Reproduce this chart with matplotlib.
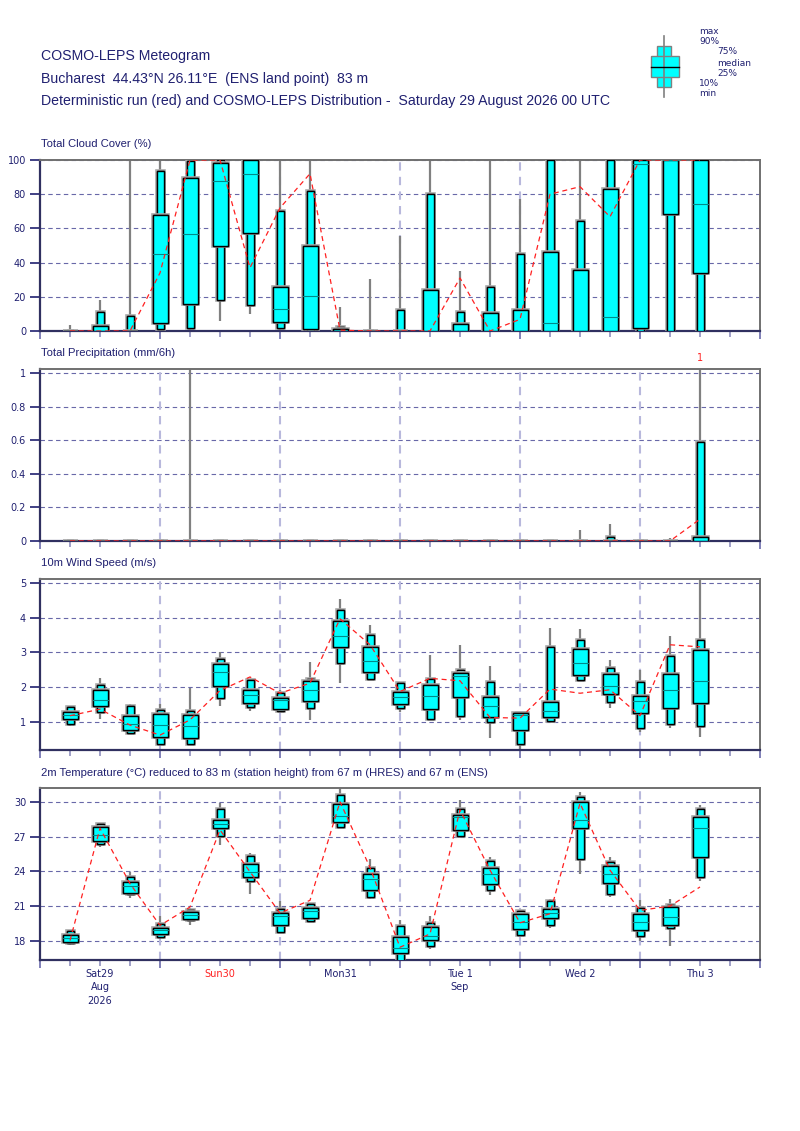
import matplotlib
matplotlib.use('Agg')
import matplotlib.pyplot as plt
import matplotlib.patheffects as pe
from matplotlib import font_manager
from matplotlib.patches import Rectangle
import numpy as np

# Horas desde el sábado 29 00 UTC (pasos de 6 h)
steps = np.arange(6, 133, 6)

# Nubosidad total (%)
cc_min = [0, 0, 0, 0, 0, 6, 10, 0, 0, 0, 0, 0, 0, 0, 0, 0, 0, 0, 0, 0, 0, 0]
cc_p10 = [0, 0, 0, 1, 2, 18, 15, 2, 0, 0, 0, 0, 0, 0, 0, 0, 0, 0, 0, 0, 0, 0]
cc_p25 = [0, 0, 0, 4.5, 16, 49.5, 57.5, 5, 1, 0, 0, 0, 0, 0, 0, 0, 0, 0, 0, 1.5, 68.4, 34]
cc_med = [0, 0, 0, 45, 57, 87.7, 92, 13, 20.5, 0, 0, 0, 0, 0, 0, 0, 4.5, 0, 8, 97.4, 100, 74.4]
cc_p75 = [0, 3, 0, 67.6, 89.7, 98, 100, 25.5, 49.5, 1, 0, 0, 23.8, 3.9, 10.3, 12, 46, 35.7, 83.2, 100, 100, 100]
cc_p90 = [0, 11.3, 8.8, 93.6, 99.4, 100, 100, 70.4, 82, 2.1, 0, 12, 80, 11.3, 25.5, 45, 100, 64.3, 100, 100, 100, 100]
cc_max = [3.5, 18, 100, 100, 100, 100, 100, 100, 100, 14, 30.6, 55.5, 100, 35, 100, 77, 100, 100, 100, 100, 100, 100]
cc_det = [0, 0, 0, 34, 100, 100, 37, 72, 92, 0.5, 0, 0, 0, 31, 0, 6.8, 80, 84.4, 66.8, 100, 100, 100]

# Precipitación total (mm/6h)
tp_min = [0] * 22
tp_p10 = [0] * 22
tp_p25 = [0] * 22
tp_med = [0] * 22
tp_p75 = [0] * 18 + [0, 0, 0, 0.024]
tp_p90 = [0] * 18 + [0.024, 0, 0, 0.59]
tp_max = [0, 0, 0, 0, 1.6, 0, 0, 0, 0, 0, 0, 0, 0, 0, 0, 0, 0, 0.064, 0.1, 0, 0.02, 1.6]
tp_det = [0] * 21 + [0.13]

# Viento a 10 m (m/s)
ws_min = [0.88, 1.07, 0.65, 0.36, 0.33, 1.44, 1.32, 1.27, 1.04, 2.11, 2.19, 1.29, 1.06, 1.06, 0.52, 0.1, 1.0, 2.2, 1.40, 0.71, 0.83, 0.57]
ws_p10 = [0.92, 1.29, 0.67, 0.36, 0.34, 1.67, 1.43, 1.31, 1.39, 2.69, 2.22, 1.39, 1.08, 1.15, 0.98, 0.35, 1.02, 2.21, 1.57, 0.83, 0.92, 0.87]
ws_p25 = [1.08, 1.45, 0.75, 0.56, 0.54, 2.04, 1.55, 1.36, 1.59, 3.15, 2.43, 1.52, 1.36, 1.70, 1.14, 0.76, 1.12, 2.34, 1.79, 1.25, 1.40, 1.55]
ws_med = [1.19, 1.63, 0.92, 0.89, 0.87, 2.43, 1.77, 1.62, 1.90, 3.47, 2.74, 1.70, 1.73, 2.32, 1.44, 1.20, 1.32, 2.69, 2.03, 1.61, 1.91, 2.18]
ws_p75 = [1.27, 1.91, 1.15, 1.23, 1.18, 2.67, 1.92, 1.67, 2.16, 3.92, 3.16, 1.87, 2.05, 2.40, 1.72, 1.24, 1.57, 3.09, 2.37, 1.73, 2.38, 3.06]
ws_p90 = [1.43, 2.06, 1.46, 1.35, 1.32, 2.81, 2.19, 1.83, 2.24, 4.23, 3.50, 2.13, 2.23, 2.49, 2.14, 1.24, 3.17, 3.35, 2.55, 2.14, 2.90, 3.35]
ws_max = [1.45, 2.27, 1.52, 1.51, 1.96, 3.02, 2.19, 1.92, 2.72, 4.55, 3.80, 2.13, 2.93, 3.22, 2.61, 1.25, 3.70, 3.68, 2.77, 2.48, 3.46, 5.6]
ws_det = [1.17, 1.36, 0.90, 0.61, 1.05, 1.90, 2.29, 1.82, 2.11, 3.97, 3.22, 1.87, 2.25, 2.18, 1.12, 1.10, 1.94, 1.82, 1.92, 1.17, 3.22, 3.16]

# Temperatura a 2 m (°C)
t_min = [17.68, 26.07, 21.73, 18.17, 19.33, 26.27, 22.02, 18.70, 19.65, 27.72, 21.64, 15.9, 17.30, 27.00, 21.99, 18.50, 19.13, 23.81, 21.79, 18.03, 17.57, 23.18]
t_p10 = [17.80, 26.33, 22.02, 18.32, 19.76, 27.05, 23.18, 18.75, 19.70, 27.80, 21.79, 16.2, 17.59, 27.05, 22.37, 18.55, 19.33, 25.06, 22.08, 18.40, 19.10, 23.55]
t_p25 = [17.88, 26.59, 22.13, 18.58, 19.90, 27.72, 23.52, 19.39, 20.00, 28.24, 22.37, 16.99, 18.11, 27.57, 22.94, 19.01, 19.94, 27.77, 23.00, 18.95, 19.39, 25.20]
t_med = [18.23, 27.14, 22.77, 18.90, 20.25, 28.06, 23.90, 20.17, 20.57, 28.79, 23.38, 17.39, 18.46, 28.67, 23.75, 19.62, 20.40, 28.44, 23.75, 19.59, 20.05, 27.72]
t_p75 = [18.55, 27.80, 23.06, 19.13, 20.49, 28.41, 24.59, 20.40, 20.83, 29.80, 23.81, 18.37, 19.18, 28.90, 24.25, 20.34, 20.78, 29.97, 24.45, 20.31, 20.92, 28.73]
t_p90 = [18.87, 28.06, 23.52, 19.47, 20.63, 29.39, 25.34, 20.72, 21.15, 30.60, 24.30, 19.30, 19.53, 29.36, 24.88, 20.57, 21.44, 30.38, 24.82, 20.86, 21.09, 29.39]
t_max = [18.90, 28.15, 23.96, 20.17, 20.80, 29.88, 25.60, 21.44, 21.30, 31.50, 25.03, 19.76, 20.11, 30.17, 25.20, 20.63, 21.64, 30.81, 25.26, 21.50, 21.64, 29.74]
t_det = [18.03, 27.72, 22.94, 19.33, 20.92, 27.57, 23.96, 20.40, 21.50, 30.00, 24.33, 17.45, 18.60, 29.30, 24.10, 19.56, 20.34, 29.88, 24.10, 20.63, 21.00, 22.65]

# Etiquetas del eje X (12 UTC de cada día)
day_pos = [12, 36, 60, 84, 108, 132]
day_labels = ['Sat29\nAug\n2026', 'Sun30', 'Mon31', 'Tue 1\nSep', 'Wed 2', 'Thu 3']
day_colors = ['#202070', '#ff2020', '#202070', '#202070', '#202070', '#202070']

NAVY = '#202070'
GREY = '#808080'
CYAN = '#00ffff'

names = {f.name for f in font_manager.fontManager.ttflist}
narrow = 'Liberation Sans Narrow' if 'Liberation Sans Narrow' in names else 'Liberation Sans'

plt.rcParams['font.family'] = 'DejaVu Sans'

fig = plt.figure(figsize=(8, 11.31), dpi=100)

shadow = [pe.withStroke(linewidth=2.6, foreground='#a8a8a8'), pe.Normal()]


def draw_boxes(ax, mn, p10, p25, med, p75, p90, mx, det):
    for i, x in enumerate(steps):
        ax.plot([x, x], [mn[i], mx[i]], color=GREY, lw=1.6, zorder=2,
                solid_capstyle='butt')
        r1 = Rectangle((x - 0.7, p10[i]), 1.4, p90[i] - p10[i], facecolor=CYAN,
                       edgecolor='black', lw=1.0, zorder=3)
        r1.set_path_effects(shadow)
        ax.add_patch(r1)
        r2 = Rectangle((x - 1.5, p25[i]), 3.0, p75[i] - p25[i], facecolor=CYAN,
                       edgecolor='black', lw=1.0, zorder=4)
        r2.set_path_effects(shadow)
        ax.add_patch(r2)
        ax.plot([x - 1.5, x + 1.5], [med[i], med[i]], color='#008a8a', lw=0.8, zorder=5)
    ax.plot(steps, det, color='#ff2020', lw=0.9, dashes=(4, 3), zorder=6)


def style_axes(ax, ylim, yticks, yticklabels):
    ax.set_xlim(0, 144)
    ax.set_ylim(*ylim)
    ax.set_yticks(yticks)
    ax.set_yticklabels(yticklabels)
    for y in yticks:
        ax.axhline(y, color='#6868a8', lw=0.8, dashes=(4, 3), zorder=1)
    for x in range(24, 144, 24):
        ax.axvline(x, color='#b8b8dc', lw=1.5, dashes=(4, 3), zorder=1)
    ax.set_xticks(range(0, 145, 24))
    ax.set_xticks(range(0, 145, 6), minor=True)
    ax.tick_params(axis='y', direction='out', length=7, width=1.2, color=NAVY,
                   labelcolor=NAVY, labelsize=7, pad=3)
    ax.tick_params(axis='x', which='major', direction='out', length=6, width=1.4,
                   color='#8080b8')
    ax.tick_params(axis='x', which='minor', direction='out', length=4, width=1.2,
                   color='#9090c0')
    ax.set_xticklabels([])
    for s in ['left', 'bottom']:
        ax.spines[s].set_color('#303060')
        ax.spines[s].set_linewidth(1.6)
    for s in ['top', 'right']:
        ax.spines[s].set_color('#707070')
        ax.spines[s].set_linewidth(1.4)


H = 1131.0


def panel(top_px, bot_px):
    return fig.add_axes([0.05, 1 - bot_px / H, 0.9, (bot_px - top_px) / H])


# Nubosidad
ax1 = panel(160, 331)
draw_boxes(ax1, cc_min, cc_p10, cc_p25, cc_med, cc_p75, cc_p90, cc_max, cc_det)
style_axes(ax1, (0, 100), [0, 20, 40, 60, 80, 100], ['0', '20', '40', '60', '80', '100'])

# Precipitación
ax2 = panel(369, 541)
draw_boxes(ax2, tp_min, tp_p10, tp_p25, tp_med, tp_p75, tp_p90, tp_max, tp_det)
style_axes(ax2, (0, 1.025), [0, 0.2, 0.4, 0.6, 0.8, 1], ['0', '0.2', '0.4', '0.6', '0.8', '1'])
ax2.text(132, 1.09, '1', color='#ff2020', fontsize=7, ha='center', va='center')

# Viento
ax3 = panel(579, 750)
draw_boxes(ax3, ws_min, ws_p10, ws_p25, ws_med, ws_p75, ws_p90, ws_max, ws_det)
style_axes(ax3, (0.18, 5.12), [1, 2, 3, 4, 5], ['1', '2', '3', '4', '5'])

# Temperatura
ax4 = panel(788, 960)
draw_boxes(ax4, t_min, t_p10, t_p25, t_med, t_p75, t_p90, t_max, t_det)
style_axes(ax4, (16.35, 31.19), [18, 21, 24, 27, 30], ['18', '21', '24', '27', '30'])
for x, lab, c in zip(day_pos, day_labels, day_colors):
    ax4.text(x, -0.05, lab, transform=ax4.get_xaxis_transform(), ha='center', va='top',
             fontsize=7, color=c, linespacing=1.45)

# Títulos de los paneles
titles = [(144, 'Total Cloud Cover (%)'), (353, 'Total Precipitation (mm/6h)'),
          (563, '10m Wind Speed (m/s)'),
          (773, '2m Temperature (°C) reduced to 83 m (station height) from 67 m (HRES) and 67 m (ENS)')]
for ypx, t in titles:
    fig.text(41 / 800, 1 - ypx / H, t, fontsize=8.1, color=NAVY, family=narrow,
             ha='left', va='center')

# Encabezado
header = [(56, 'COSMO-LEPS Meteogram'),
          (79, 'Bucharest  44.43°N 26.11°E  (ENS land point)  83 m'),
          (101, 'Deterministic run (red) and COSMO-LEPS Distribution -  Saturday 29 August 2026 00 UTC')]
for ypx, t in header:
    fig.text(41 / 800, 1 - ypx / H, t, fontsize=10.2, color=NAVY, family=narrow,
             ha='left', va='center')

# Leyenda de la caja
lg = fig.add_axes([0, 0, 1, 1])
lg.set_xlim(0, 800)
lg.set_ylim(H, 0)
lg.axis('off')
lg.plot([664, 664], [36, 97], color=GREY, lw=1.2)
lg.add_patch(Rectangle((657, 46), 14, 41.3, facecolor=CYAN, edgecolor=GREY, lw=1.0))
lg.add_patch(Rectangle((650.5, 56), 28, 21.3, facecolor=CYAN, edgecolor=GREY, lw=1.0))
lg.plot([650.5, 678.5], [66.7, 66.7], color='black', lw=1.0)
leg_items = [(699, 32, 'max'), (699, 42, '90%'), (717, 52, '75%'), (717, 63, 'median'),
             (717, 73, '25%'), (699, 84, '10%'), (699, 94, 'min')]
for x, y, t in leg_items:
    lg.text(x, y, t, fontsize=6.5, color=NAVY, ha='left', va='center')

plt.savefig('out.png', dpi=100)
